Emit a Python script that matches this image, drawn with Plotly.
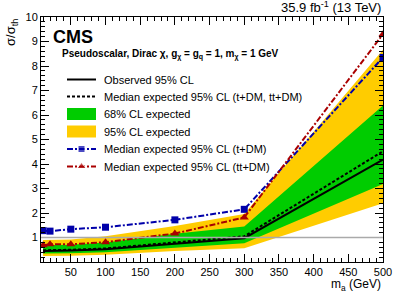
import plotly.graph_objects as go

# ---- data ----
mass = [10, 20, 50, 100, 200, 300, 500]
observed = [0.45, 0.45, 0.47, 0.52, 0.75, 0.97, 4.18]
expected = [0.48, 0.48, 0.50, 0.55, 0.80, 1.05, 4.52]
exp_p1 = [0.68, 0.68, 0.70, 0.80, 1.15, 1.45, 6.39]
exp_m1 = [0.35, 0.35, 0.36, 0.40, 0.58, 0.77, 3.18]
exp_p2 = [0.90, 0.90, 0.92, 1.05, 1.47, 1.96, 8.66]
exp_m2 = [0.24, 0.24, 0.26, 0.30, 0.45, 0.56, 2.40]
exp_tdm = [1.28, 1.26, 1.34, 1.42, 1.72, 2.15, 8.35]
exp_ttdm = [0.68, 0.72, 0.72, 0.81, 1.16, 1.82, 9.30]

x_ticks = [50, 100, 150, 200, 250, 300, 350, 400, 450, 500]
y_ticks = [1, 2, 3, 4, 5, 6, 7, 8, 9, 10]

YELLOW = "#ffcc00"
GREEN = "#00cc00"
BLUE = "#0000aa"
RED = "#aa0000"
FONT = "Liberation Sans, Arial, sans-serif"

W, H = 407, 292
L, R, T, B = 41, 24, 17, 30

fig = go.Figure()

# 95% band
fig.add_trace(go.Scatter(x=mass + mass[::-1], y=exp_p2 + exp_m2[::-1], fill="toself",
                         fillcolor=YELLOW, line=dict(width=0), mode="lines",
                         hoverinfo="skip", showlegend=False))
# 68% band
fig.add_trace(go.Scatter(x=mass + mass[::-1], y=exp_p1 + exp_m1[::-1], fill="toself",
                         fillcolor=GREEN, line=dict(width=0), mode="lines",
                         hoverinfo="skip", showlegend=False))

fig.add_shape(type="line", xref="paper", x0=0, x1=1, yref="y", y0=1, y1=1,
              line=dict(color="#aaaaaa", width=1.5), layer="above")

fig.add_trace(go.Scatter(x=mass, y=expected, mode="lines",
                         line=dict(color="black", width=2, dash="3px,2px"), showlegend=False))
fig.add_trace(go.Scatter(x=mass, y=observed, mode="lines",
                         line=dict(color="black", width=2), showlegend=False))
fig.add_trace(go.Scatter(x=mass, y=exp_tdm, mode="lines+markers",
                         line=dict(color=BLUE, width=2, dash="6px,2px,2px,2px"),
                         marker=dict(symbol="square", size=7, color=BLUE), showlegend=False))
fig.add_trace(go.Scatter(x=mass, y=exp_ttdm, mode="lines+markers",
                         line=dict(color=RED, width=2, dash="6px,2px,2px,2px"),
                         marker=dict(symbol="triangle-up", size=8, color=RED), showlegend=False))

# ---- legend drawn on an overlay pixel axis ----
lx0, lx1 = 67, 96
rows = [79.5, 96.5, 114, 131.5, 149, 166.5]
labels = ["Observed 95% CL",
          "Median expected 95% CL (t+DM, tt+DM)",
          "68% CL expected",
          "95% CL expected",
          "Median expected 95% CL (t+DM)",
          "Median expected 95% CL (tt+DM)"]

fig.add_trace(go.Scatter(x=[lx0, lx1], y=[rows[0]] * 2, xaxis="x2", yaxis="y2", mode="lines",
                         line=dict(color="black", width=2), showlegend=False))
fig.add_trace(go.Scatter(x=[lx0, lx1], y=[rows[1]] * 2, xaxis="x2", yaxis="y2", mode="lines",
                         line=dict(color="black", width=2, dash="3px,2px"), showlegend=False))
fig.add_shape(type="rect", xref="x2", yref="y2", x0=lx0, x1=lx1, y0=rows[2] - 6, y1=rows[2] + 6,
              fillcolor=GREEN, line=dict(width=0))
fig.add_shape(type="rect", xref="x2", yref="y2", x0=lx0, x1=lx1, y0=rows[3] - 6, y1=rows[3] + 6,
              fillcolor=YELLOW, line=dict(width=0))
fig.add_trace(go.Scatter(x=[lx0, (lx0 + lx1) / 2, lx1], y=[rows[4]] * 3, xaxis="x2", yaxis="y2",
                         mode="lines+markers",
                         line=dict(color=BLUE, width=2, dash="6px,2px,2px,2px"),
                         marker=dict(symbol="square", size=[0, 7, 0], color=BLUE), showlegend=False))
fig.add_trace(go.Scatter(x=[lx0, (lx0 + lx1) / 2, lx1], y=[rows[5]] * 3, xaxis="x2", yaxis="y2",
                         mode="lines+markers",
                         line=dict(color=RED, width=2, dash="6px,2px,2px,2px"),
                         marker=dict(symbol="triangle-up", size=[0, 8, 0], color=RED), showlegend=False))

annotations = []
for r, t in zip(rows, labels):
    annotations.append(dict(xref="x2", yref="y2", x=102, y=r, text=t, showarrow=False,
                            xanchor="left", yanchor="middle",
                            font=dict(family=FONT, size=11, color="black")))

annotations += [
    dict(xref="x2", yref="y2", x=51, y=37, text="<b>CMS</b>", showarrow=False,
         xanchor="left", yanchor="middle", font=dict(family=FONT, size=18, color="black")),
    dict(xref="x2", yref="y2", x=60, y=54,
         text="<b>Pseudoscalar, Dirac χ, g<sub>χ</sub> = g<sub>q</sub> = 1, m<sub>χ</sub> = 1 GeV</b>",
         showarrow=False, xanchor="left", yanchor="middle",
         font=dict(family=FONT, size=10, color="black")),
    dict(xref="paper", yref="paper", x=1, y=1, yshift=0, text="35.9 fb<sup>-1</sup> (13 TeV)",
         showarrow=False, xanchor="right", yanchor="bottom",
         font=dict(family=FONT, size=13, color="black")),
    dict(xref="paper", yref="paper", x=1, y=0, yshift=-13, text="m<sub>a</sub> (GeV)",
         showarrow=False, xanchor="right", yanchor="top",
         font=dict(family=FONT, size=12, color="black")),
    dict(xref="paper", yref="paper", x=0, y=1, xshift=-19, text="σ/σ<sub>th</sub>",
         showarrow=False, xanchor="right", yanchor="top", textangle=-90,
         font=dict(family=FONT, size=13, color="black")),
]

axis_common = dict(showline=True, linecolor="black", linewidth=1, mirror="ticks",
                   ticks="inside", tickcolor="black", showgrid=False, zeroline=False,
                   tickfont=dict(family=FONT, size=11, color="black"))

fig.update_layout(
    width=W, height=H,
    margin=dict(l=L, r=R, t=T, b=B),
    paper_bgcolor="white", plot_bgcolor="white",
    showlegend=False,
    annotations=annotations,
    xaxis=dict(range=[7, 500], tickvals=x_ticks, ticklen=8,
               minor=dict(ticks="inside", ticklen=4, dtick=10, tick0=0, tickcolor="black"),
               **axis_common),
    yaxis=dict(range=[0, 10], tickvals=y_ticks, ticklen=8,
               minor=dict(ticks="inside", ticklen=4, dtick=0.2, tick0=0, tickcolor="black"),
               **axis_common),
    xaxis2=dict(overlaying="x", range=[L, W - R], visible=False),
    yaxis2=dict(overlaying="y", range=[H - B, T], visible=False),
)

fig.write_html("out.html", config={"displayModeBar": False},
               post_script="document.body.style.margin='0';document.body.style.overflow='hidden';")
